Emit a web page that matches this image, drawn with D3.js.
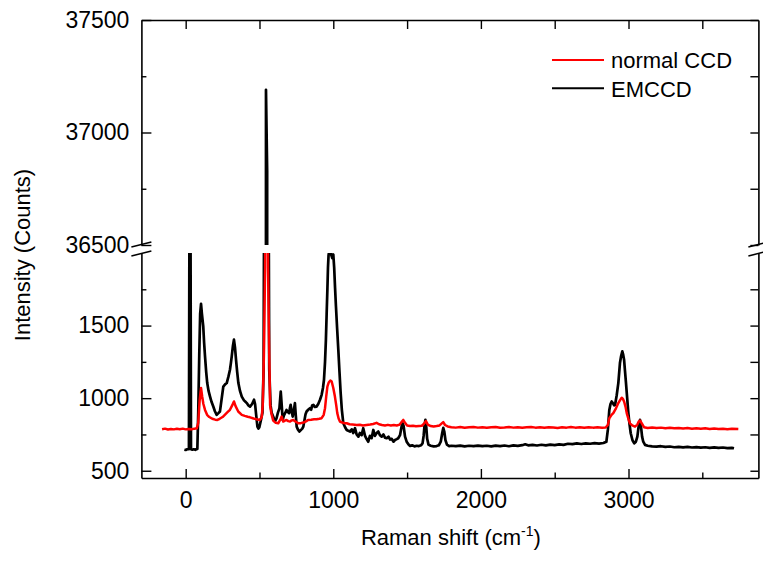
<!DOCTYPE html>
<html><head><meta charset="utf-8">
<script src="https://cdn.jsdelivr.net/npm/d3@7"></script>
<style>
html,body{margin:0;padding:0;background:#fff;}
svg text{font-family:"Liberation Sans",Arial,Helvetica,sans-serif;fill:#000;}
</style></head>
<body>
<svg id="chart" width="763" height="561"></svg>
<script>
// ---- data ----
const seriesNames = ["normal CCD", "EMCCD"];
const seriesColors = ["#ff0000", "#000000"];
const xMajorTicks = [0, 1000, 2000, 3000];
const xMinorTicks = [500, 1500, 2500, 3500];
const yLowMajorTicks = [500, 1000, 1500];
const yLowMinorTicks = [750, 1250, 1750];
const yUpMajorTicks = [36500, 37000, 37500];
const yUpMinorTicks = [36750, 37250];

// normal CCD: [Raman shift, counts]
const normalCCD = [
[-160,786],[-140,790],[-120,784],[-100,788],[-80,785],[-60,789],[-40,786],[-20,790],[0,785],[20,788],[40,786],[60,790],[75,792],
[85,830],[95,990],[104,1070],[112,1010],[120,960],[131,919],[145,885],[160,870],[180,858],[200,852],[215,850],[230,858],[250,870],
[270,890],[285,905],[300,920],[315,950],[327,977],[338,945],[356,908],[380,885],[400,878],[420,872],[436,868],[460,860],[480,855],
[503,850],[515,870],[522,950],[530,1300],[538,1900],[542,3000],[548,8000],[554,3000],[558,1900],[566,1300],[572,950],[580,897],[593,845],[610,830],
[627,827],[640,850],[650,873],[661,839],[672,845],[683,850],[695,842],[707,839],[718,847],[729,850],[745,838],[763,827],[780,828],
[797,832],[815,840],[829,850],[850,852],[870,855],[887,855],[905,858],[921,862],[935,885],[944,931],[952,1010],[960,1080],[970,1110],
[980,1122],[989,1115],[1000,1070],[1011,1011],[1020,950],[1027,897],[1036,860],[1045,839],[1060,832],[1075,828],[1091,827],
[1110,820],[1130,818],[1159,815],[1180,817],[1200,812],[1225,815],[1250,818],[1270,822],[1293,830],[1310,820],[1330,815],
[1350,812],[1370,816],[1390,812],[1410,815],[1430,812],[1450,818],[1462,835],[1474,850],[1486,830],[1500,812],[1520,808],
[1540,810],[1560,806],[1580,808],[1600,810],[1615,825],[1628,842],[1640,818],[1660,808],[1680,805],[1700,808],[1720,812],
[1735,826],[1745,835],[1757,815],[1775,805],[1800,800],[1830,797],[1860,801],[1890,796],[1920,799],[1950,802],[1980,797],
[2010,800],[2040,796],[2070,799],[2100,801],[2130,796],[2160,798],[2190,801],[2220,797],[2250,800],[2280,796],[2310,799],
[2340,802],[2370,797],[2400,799],[2430,796],[2460,800],[2490,798],[2520,795],[2550,799],[2580,797],[2610,801],[2640,797],
[2670,799],[2700,796],[2730,800],[2760,797],[2790,799],[2820,796],[2845,798],[2860,815],[2870,862],[2885,885],[2897,897],
[2915,930],[2931,966],[2945,990],[2954,1003],[2962,995],[2970,977],[2980,940],[2988,897],[3000,855],[3010,827],[3025,812],
[3044,804],[3060,818],[3070,840],[3078,846],[3088,830],[3105,800],[3130,795],[3160,798],[3190,794],[3220,797],[3250,793],
[3280,796],[3310,792],[3340,795],[3370,791],[3400,794],[3430,790],[3460,793],[3490,789],[3520,792],[3550,788],[3580,791],
[3610,787],[3640,790],[3670,786],[3700,789],[3744,787]
];

// EMCCD: [Raman shift, counts]
const emCCD = [
[-9,645],[0,643],[10,648],[22,648],[29,4000],[36,648],[45,645],[55,648],[65,644],[72,648],[79,650],[85,900],[92,1300],[98,1580],
[104,1650],[110,1580],[119,1495],[125,1380],[131,1288],[139,1180],[146,1104],[155,1050],[165,1011],[175,975],[187,942],[198,910],
[210,885],[220,895],[232,908],[243,990],[255,1080],[267,1095],[278,1104],[290,1150],[300,1196],[306,1240],[312,1288],[320,1360],
[327,1403],[334,1350],[341,1265],[349,1180],[357,1104],[368,1050],[380,1011],[395,985],[405,975],[414,966],[425,950],[436,942],
[450,960],[463,989],[470,960],[478,880],[486,804],[493,790],[499,800],[510,850],[520,900],[528,1200],[536,4000],[544,37190],
[552,36830],[560,3000],[566,1200],[575,950],[583,897],[594,870],[605,839],[615,860],[625,900],[635,930],[644,1046],[650,960],
[657,850],[665,880],[675,900],[683,919],[692,905],[701,897],[706,930],[711,954],[718,910],[725,873],[732,910],[740,966],[746,880],
[752,804],[760,785],[770,770],[780,780],[790,790],[797,804],[805,850],[812,890],[819,908],[830,920],[842,931],[850,920],[857,950],
[865,954],[875,940],[887,942],[898,960],[910,989],[921,1023],[930,1070],[937,1127],[944,1250],[950,1403],[955,1580],[960,1749],
[964,1900],[968,1985],[975,2030],[985,1990],[993,1965],[1000,1990],[1006,1900],[1012,1760],[1018,1633],[1026,1480],[1034,1334],
[1042,1180],[1050,1035],[1058,920],[1068,827],[1080,800],[1091,781],[1102,775],[1113,770],[1125,785],[1135,760],[1147,793],
[1158,750],[1170,735],[1180,760],[1192,745],[1203,793],[1215,740],[1225,720],[1237,700],[1248,740],[1260,725],[1271,781],
[1282,740],[1294,760],[1305,770],[1316,745],[1328,735],[1340,750],[1350,728],[1362,724],[1374,735],[1385,715],[1396,720],
[1407,700],[1418,712],[1430,718],[1440,724],[1452,745],[1460,790],[1468,830],[1476,810],[1486,735],[1497,700],[1510,680],
[1520,671],[1535,675],[1550,668],[1565,672],[1580,670],[1595,675],[1605,690],[1612,740],[1618,810],[1624,850],[1630,800],
[1636,720],[1645,680],[1660,672],[1680,668],[1700,670],[1715,675],[1728,700],[1738,760],[1745,795],[1752,770],[1760,710],
[1770,680],[1785,670],[1800,672],[1830,669],[1860,673],[1890,668],[1920,672],[1950,670],[1980,673],[2010,669],[2040,672],
[2070,668],[2100,673],[2130,670],[2160,674],[2190,669],[2220,675],[2250,671],[2280,676],[2300,682],[2320,675],[2350,678],
[2380,674],[2410,679],[2440,675],[2470,680],[2500,677],[2530,682],[2560,678],[2590,686],[2620,683],[2650,688],[2680,684],
[2710,689],[2740,686],[2770,690],[2800,687],[2830,691],[2850,700],[2860,781],[2870,919],[2878,960],[2886,977],[2895,965],
[2903,950],[2909,954],[2920,1020],[2931,1104],[2942,1242],[2950,1290],[2958,1322],[2964,1300],[2970,1265],[2976,1190],
[2983,1104],[2991,1000],[2999,897],[3007,820],[3015,758],[3027,710],[3039,689],[3050,700],[3060,735],[3068,800],[3078,850],
[3085,800],[3092,735],[3100,700],[3112,678],[3130,672],[3160,668],[3190,666],[3220,669],[3250,664],[3280,667],[3310,662],
[3340,665],[3370,661],[3400,664],[3430,660],[3460,663],[3490,659],[3520,662],[3550,658],[3580,661],[3610,657],[3640,660],
[3670,656],[3700,658],[3715,655]
];

// ---- layout ----
const svg = d3.select("#chart");
const L = 141.4, R = 758.4;
const x = d3.scaleLinear().domain([-300, 3880]).range([L, R]);
const yUp = d3.scaleLinear().domain([36500, 37500]).range([245, 20]);
const yLow = d3.scaleLinear().domain([450, 2000]).range([478, 253]);

const defs = svg.append("defs");
defs.append("clipPath").attr("id", "clipUp").append("rect")
  .attr("x", L).attr("y", yUp.range()[1]).attr("width", R - L).attr("height", yUp.range()[0] - yUp.range()[1]);
defs.append("clipPath").attr("id", "clipLow").append("rect")
  .attr("x", L).attr("y", yLow.range()[1]).attr("width", R - L).attr("height", yLow.range()[0] - yLow.range()[1]);

const series = [emCCD, normalCCD];
const colors = [seriesColors[1], seriesColors[0]];
const widths = [2.7, 2.5];
[["clipLow", yLow], ["clipUp", yUp]].forEach(([cid, ys]) => {
  const g = svg.append("g").attr("clip-path", `url(#${cid})`);
  const line = d3.line().x(d => x(d[0])).y(d => ys(d[1]));
  series.forEach((s, i) => {
    g.append("path").datum(s).attr("d", line)
      .attr("fill", "none").attr("stroke", colors[i]).attr("stroke-width", widths[i])
      .attr("stroke-linejoin", "round");
  });
});

// ---- axes ----
const FS = 23;
function styleAxis(g, labels) {
  g.selectAll(".domain").attr("stroke", "#000").attr("stroke-width", 1.6);
  g.selectAll(".tick line").attr("stroke", "#000").attr("stroke-width", 1.4);
  g.selectAll("text").style("font-size", FS + "px").attr("fill", "#000");
  if (!labels) g.selectAll("text").remove();
}
// bottom
svg.append("g").attr("transform", `translate(0,478)`)
  .call(d3.axisBottom(x).tickValues(xMajorTicks).tickSize(-9).tickSizeOuter(0).tickPadding(13.5).tickFormat(d3.format("d")))
  .call(g => styleAxis(g, true));
svg.append("g").attr("transform", `translate(0,478)`)
  .call(d3.axisBottom(x).tickValues(xMinorTicks).tickSize(-5.5).tickSizeOuter(0))
  .call(g => { styleAxis(g, false); g.select(".domain").remove(); });
// top
svg.append("g").attr("transform", `translate(0,20)`)
  .call(d3.axisTop(x).tickValues(xMajorTicks.concat(xMinorTicks)).tickSize(-9).tickSizeOuter(0))
  .call(g => styleAxis(g, false));
// left & right, both segments
[[yLow, yLowMajorTicks, yLowMinorTicks], [yUp, yUpMajorTicks, yUpMinorTicks]].forEach(([ys, maj, min]) => {
  svg.append("g").attr("transform", `translate(${L},0)`)
    .call(d3.axisLeft(ys).tickValues(maj).tickSize(-10).tickSizeOuter(0).tickPadding(12).tickFormat(d3.format("d")))
    .call(g => styleAxis(g, true));
  svg.append("g").attr("transform", `translate(${L},0)`)
    .call(d3.axisLeft(ys).tickValues(min).tickSize(-5).tickSizeOuter(0))
    .call(g => { styleAxis(g, false); g.select(".domain").remove(); });
  svg.append("g").attr("transform", `translate(${R},0)`)
    .call(d3.axisRight(ys).tickValues(maj.concat(min)).tickSize(-8).tickSizeOuter(0))
    .call(g => styleAxis(g, false));
});

// axis-break marks
const bTop = yUp.range()[0], bBot = yLow.range()[1];
[L, R].forEach(ax => {
  [bTop - 0.5, bBot + 0.5].forEach(yy => {
    svg.append("line").attr("x1", ax - 10).attr("y1", yy + 2.5).attr("x2", ax + 10).attr("y2", yy - 2.5)
      .attr("stroke", "#000").attr("stroke-width", 1.5);
  });
});

// titles
svg.append("text").attr("x", (L + R) / 2 + 1).attr("y", 545).attr("text-anchor", "middle")
  .style("font-size", "22px")
  .call(t => {
    t.append("tspan").text("Raman shift (cm");
    t.append("tspan").text("-1").style("font-size", "14px").attr("dy", -9);
    t.append("tspan").text(")").attr("dy", 9);
  });
svg.append("text").attr("transform", "translate(30,255) rotate(-90)").attr("text-anchor", "middle")
  .style("font-size", "22px").text("Intensity (Counts)");

// legend
const leg = svg.append("g");
seriesNames.forEach((n, i) => {
  const yy = 60 + i * 28.3;
  leg.append("line").attr("x1", 552).attr("x2", 604).attr("y1", yy).attr("y2", yy)
    .attr("stroke", seriesColors[i]).attr("stroke-width", 2);
  leg.append("text").attr("x", 611).attr("y", yy + 8.2).style("font-size", "22px").text(n);
});
</script>
</body></html>
